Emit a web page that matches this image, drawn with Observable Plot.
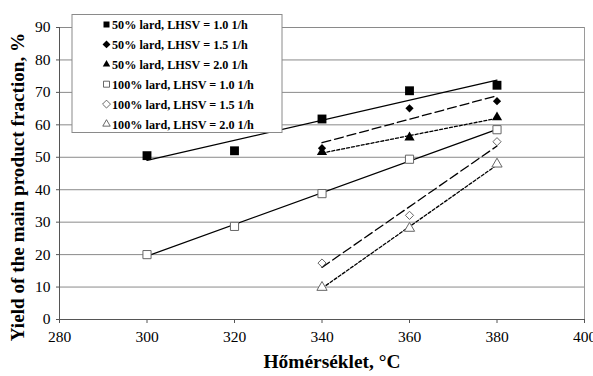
<!DOCTYPE html>
<html>
<head>
<meta charset="utf-8">
<script src="https://cdn.jsdelivr.net/npm/d3@7"></script>
<script src="https://cdn.jsdelivr.net/npm/@observablehq/plot@0.6"></script>
<style>
  html, body { margin: 0; padding: 0; background: #fff; }
  #chart { width: 593px; height: 376px; }
  #chart svg text { font-family: "Liberation Serif", "Times New Roman", serif !important; }
</style>
</head>
<body>
<div id="chart"></div>
<script>
// ---- data ----
const seriesNames = [
  "50% lard, LHSV = 1.0 1/h",
  "50% lard, LHSV = 1.5 1/h",
  "50% lard, LHSV = 2.0 1/h",
  "100% lard, LHSV = 1.0 1/h",
  "100% lard, LHSV = 1.5 1/h",
  "100% lard, LHSV = 2.0 1/h"
];
const tempsLong = [300, 320, 340, 360, 380];
const tempsShort = [340, 360, 380];
const lard50_lhsv10 = [50.5, 52.0, 61.8, 70.5, 72.2];
const lard50_lhsv15 = [52.8, 65.1, 67.3];
const lard50_lhsv20 = [51.6, 56.1, 62.3];
const lard100_lhsv10 = [20.0, 28.7, 38.8, 49.4, 58.5];
const lard100_lhsv15 = [17.4, 32.1, 54.8];
const lard100_lhsv20 = [9.9, 28.1, 47.9];
const xTicks = [280, 300, 320, 340, 360, 380, 400];
const yTicks = [0, 10, 20, 30, 40, 50, 60, 70, 80, 90];
const xTitle = "Hőmérséklet, °C";
const yTitle = "Yield of the main product fraction, %";

// ---- styling per series ----
const seriesX = [tempsLong, tempsShort, tempsShort, tempsLong, tempsShort, tempsShort];
const seriesY = [lard50_lhsv10, lard50_lhsv15, lard50_lhsv20, lard100_lhsv10, lard100_lhsv15, lard100_lhsv20];
const styles = [
  {symbol: "square", fill: "#000", stroke: "none", r: 5.0, dash: null},
  {symbol: "diamond2", fill: "#000", stroke: "none", r: 3.7, dash: "9,4"},
  {symbol: "triangle", fill: "#000", stroke: "none", r: 3.8, dash: "3,2"},
  {symbol: "square", fill: "#fff", stroke: "#666", r: 4.6, dash: null},
  {symbol: "diamond2", fill: "#fff", stroke: "#666", r: 3.7, dash: "9,4"},
  {symbol: "triangle", fill: "#fff", stroke: "#666", r: 3.8, dash: "3,2"}
];

const rows = seriesNames.map((name, i) => seriesX[i].map((x, j) => ({series: name, x, y: seriesY[i][j]})));

const marks = [
  Plot.gridY(yTicks, {stroke: "#8a8a8a", strokeOpacity: 1, strokeWidth: 1}),
  Plot.ruleX([400], {stroke: "#9a9a9a", strokeWidth: 1}),
  Plot.axisX(xTicks, {tickSize: 4, tickPadding: 7, fontSize: 15.5, label: null, stroke: "#555"}),
  Plot.axisY(yTicks, {tickSize: 3, tickPadding: 6, fontSize: 15.5, label: null, stroke: "#555"}),
  Plot.ruleY([0], {stroke: "#555"}),
  Plot.ruleX([280], {stroke: "#555"})
];
rows.forEach((data, i) => {
  marks.push(Plot.linearRegressionY(data, {
    x: "x", y: "y", ci: 0, stroke: "#000", strokeWidth: 1.3,
    strokeDasharray: styles[i].dash || undefined
  }));
});
rows.forEach((data, i) => {
  const s = styles[i];
  marks.push(Plot.dot(data, {
    x: "x", y: "y", symbol: () => s.symbol, r: s.r,
    fill: s.fill, stroke: s.stroke, strokeWidth: 1
  }));
});

const plot = Plot.plot({
  width: 593,
  height: 376,
  marginLeft: 59,
  marginRight: 9,
  marginTop: 27,
  marginBottom: 57,
  x: {domain: [280, 400], label: null},
  y: {domain: [0, 90], label: null},
  symbol: {type: "identity"},
  style: {fontSize: "15.5px", color: "#000", background: "#fff"},
  marks
});

const svg = d3.select(plot);
// axis titles
svg.append("text")
  .attr("x", 332).attr("y", 368)
  .attr("text-anchor", "middle")
  .style("font-weight", "bold").style("font-size", "19.4px")
  .attr("fill", "#000")
  .text(xTitle);
svg.append("text")
  .attr("transform", "translate(24,187) rotate(-90)")
  .attr("text-anchor", "middle")
  .style("font-weight", "bold").style("font-size", "19.2px")
  .attr("fill", "#000")
  .text(yTitle);

// legend
const lg = svg.append("g");
lg.append("rect")
  .attr("x", 72).attr("y", 14.5).attr("width", 210).attr("height", 118)
  .attr("fill", "#fff").attr("stroke", "#8a8a8a");
const symMap = {square: d3.symbolSquare, diamond2: d3.symbolDiamond2, triangle: d3.symbolTriangle};
const legSize = {square: 36, diamond2: 40, triangle: 24};
seriesNames.forEach((name, i) => {
  const s = styles[i];
  const cy = 24.5 + i * 19.9;
  lg.append("path")
    .attr("d", d3.symbol(symMap[s.symbol], legSize[s.symbol])())
    .attr("transform", `translate(106.5,${cy})`)
    .attr("fill", s.fill)
    .attr("stroke", s.stroke === "none" ? "none" : "#444")
    .attr("stroke-width", 0.8);
  lg.append("text")
    .attr("x", 112).attr("y", cy + 4.5)
    .attr("text-anchor", "start")
    .style("font-weight", "bold").style("font-size", "12.2px")
    .attr("fill", "#000")
    .text(name);
});

document.getElementById("chart").appendChild(plot);
</script>
</body>
</html>
